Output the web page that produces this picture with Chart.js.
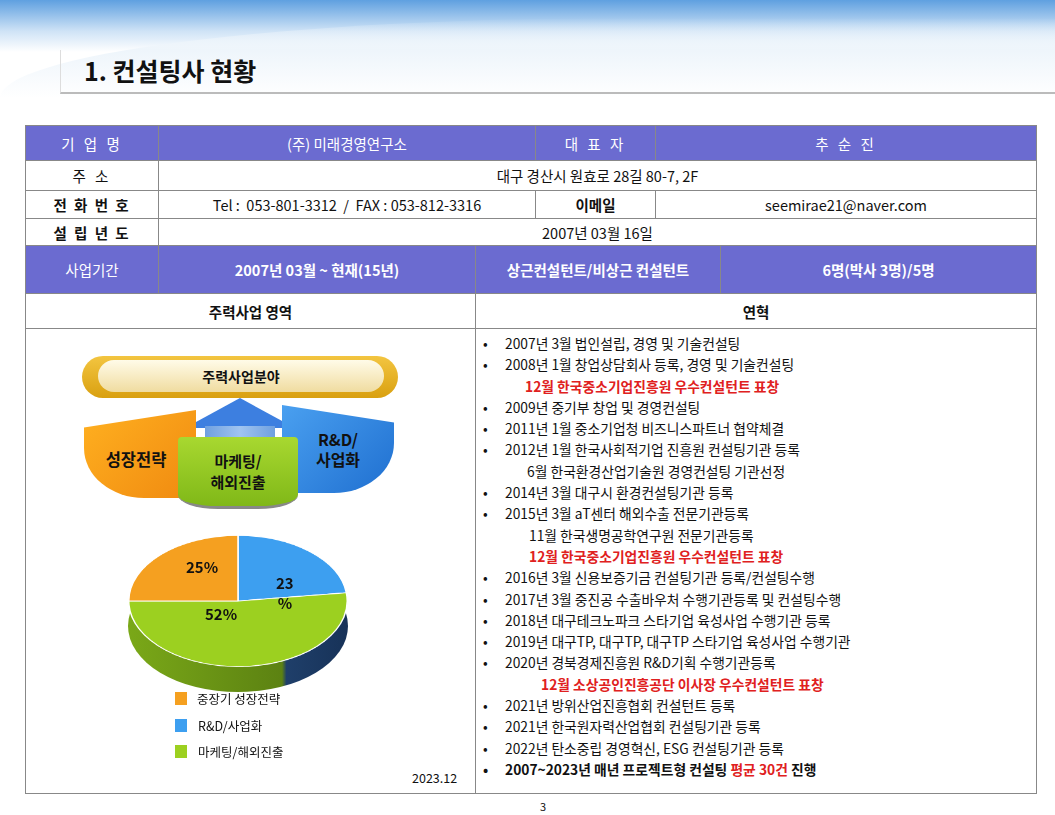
<!DOCTYPE html>
<html><head><meta charset="utf-8">
<script src="https://cdn.jsdelivr.net/npm/chart.js"></script>
<style>
body{margin:0;width:1055px;height:815px;background:#fff;font-family:"Noto Sans CJK KR","Noto Sans",sans-serif;position:relative;overflow:hidden;color:#111}
.a{position:absolute;box-sizing:border-box}
.c{display:flex;align-items:center;justify-content:center;font-size:14.5px}
.p{background:#6b6bd0;color:#fff}
.b{border:1px solid #888}
ul{margin:0;padding:0;list-style:none}
li{height:21.3px;line-height:21.3px;font-size:13.8px;white-space:nowrap}
li.d:before{content:"•";display:inline-block;width:22px;padding-left:6px}
.r{color:#e02020;font-weight:bold}
</style></head><body>
<div class="a" style="left:0;top:0;width:1055px;height:52px;background:linear-gradient(180deg,#5fa0e0,#cfe3f6 60%,#fff)"></div>
<div class="a" style="left:0;top:18px;width:1055px;height:80px;background:linear-gradient(180deg,transparent,#eef5fb 40%,#fff);border-radius:60% 0 0 0/100% 0 0 0"></div>
<div class="a" style="left:60px;top:50px;width:995px;height:44px;border-bottom:2px solid #bbb;border-left:1px solid #ddd"></div>
<div class="a" style="left:84px;top:52px;font-size:25px;font-weight:bold">1. 컨설팅사 현황</div>

<div class="a b p c" style="left:25px;top:125px;width:134px;height:36px;letter-spacing:3px">기 업 명</div>
<div class="a b p c" style="left:158px;top:125px;width:378px;height:36px">(주) 미래경영연구소</div>
<div class="a b p c" style="left:535px;top:125px;width:121px;height:36px;letter-spacing:3px">대 표 자</div>
<div class="a b p c" style="left:655px;top:125px;width:382px;height:36px;letter-spacing:3px">추 순 진</div>
<div class="a b c" style="left:25px;top:160px;width:134px;height:31px;letter-spacing:3px">주 소</div>
<div class="a b c" style="left:158px;top:160px;width:879px;height:31px">대구 경산시 원효로 28길 80-7, 2F</div>
<div class="a b c" style="left:25px;top:190px;width:134px;height:29px;font-weight:bold;letter-spacing:2px">전 화 번 호</div>
<div class="a b c" style="left:158px;top:190px;width:378px;height:29px">Tel :&nbsp; 053-801-3312 &nbsp;/ &nbsp;FAX : 053-812-3316</div>
<div class="a b c" style="left:535px;top:190px;width:121px;height:29px;font-weight:bold">이메일</div>
<div class="a b c" style="left:655px;top:190px;width:382px;height:29px">seemirae21@naver.com</div>
<div class="a b c" style="left:25px;top:218px;width:134px;height:28px;font-weight:bold;letter-spacing:2px">설 립 년 도</div>
<div class="a b c" style="left:158px;top:218px;width:879px;height:28px">2007년 03월 16일</div>
<div class="a b p c" style="left:25px;top:245px;width:134px;height:49px">사업기간</div>
<div class="a b p c" style="left:158px;top:245px;width:318px;height:49px;font-weight:bold">2007년 03월 ~ 현재(15년)</div>
<div class="a b p c" style="left:475px;top:245px;width:246px;height:49px;font-weight:bold">상근컨설턴트/비상근 컨설턴트</div>
<div class="a b p c" style="left:720px;top:245px;width:317px;height:49px;font-weight:bold">6명(박사 3명)/5명</div>
<div class="a b c" style="left:25px;top:293px;width:451px;height:36px;font-weight:bold">주력사업 영역</div>
<div class="a b c" style="left:475px;top:293px;width:562px;height:36px;font-weight:bold">연혁</div>
<div class="a b" style="left:25px;top:328px;width:451px;height:466px"></div>
<div class="a b" style="left:475px;top:328px;width:562px;height:466px"></div>

<div class="a" style="left:477px;top:333px">
<ul>
<li class="d">2007년 3월 법인설립, 경영 및 기술컨설팅</li>
<li class="d">2008년 1월 창업상담회사 등록, 경영 및 기술컨설팅</li>
<li style="padding-left:48px" class="r">12월 한국중소기업진흥원 우수컨설턴트 표창</li>
<li class="d">2009년 중기부 창업 및 경영컨설팅</li>
<li class="d">2011년 1월 중소기업청 비즈니스파트너 협약체결</li>
<li class="d">2012년 1월 한국사회적기업 진흥원 컨설팅기관 등록</li>
<li style="padding-left:50px">6월 한국환경산업기술원 경영컨설팅 기관선정</li>
<li class="d">2014년 3월 대구시 환경컨설팅기관 등록</li>
<li class="d">2015년 3월 aT센터 해외수출 전문기관등록</li>
<li style="padding-left:52px">11월 한국생명공학연구원 전문기관등록</li>
<li style="padding-left:52px" class="r">12월 한국중소기업진흥원 우수컨설턴트 표창</li>
<li class="d">2016년 3월 신용보증기금 컨설팅기관 등록/컨설팅수행</li>
<li class="d">2017년 3월 중진공 수출바우처 수행기관등록 및 컨설팅수행</li>
<li class="d">2018년 대구테크노파크 스타기업 육성사업 수행기관 등록</li>
<li class="d">2019년 대구TP, 대구TP, 대구TP 스타기업 육성사업 수행기관</li>
<li class="d">2020년 경북경제진흥원 R&amp;D기획 수행기관등록</li>
<li style="padding-left:64px" class="r">12월 소상공인진흥공단 이사장 우수컨설턴트 표창</li>
<li class="d">2021년 방위산업진흥협회 컨설턴트 등록</li>
<li class="d">2021년 한국원자력산업협회 컨설팅기관 등록</li>
<li class="d">2022년 탄소중립 경영혁신, ESG 컨설팅기관 등록</li>
<li class="d" style="font-weight:bold">2007~2023년 매년 프로젝트형 컨설팅 <span style="color:#e02020">평균 30건</span> 진행</li>
</ul></div>

<div class="a" style="left:82px;top:356px;width:316px;height:42px;border-radius:21px;background:linear-gradient(180deg,#f3c540,#d9a010)"></div>
<div class="a c" style="left:98px;top:360px;width:286px;height:32px;border-radius:16px;background:linear-gradient(180deg,#fffbe8,#f0dca0);font-weight:bold;font-size:14px">주력사업분야</div>
<div class="a" style="left:185px;top:398px;width:0;height:0;border-left:55px solid transparent;border-right:55px solid transparent;border-bottom:30px solid #3d7fe0"></div>
<div class="a" style="left:205px;top:426px;width:70px;height:20px;background:linear-gradient(90deg,#6fa0e0,#a0c4f0,#6fa0e0)"></div>
<div class="a c" style="left:84px;top:410px;width:112px;height:88px;background:linear-gradient(135deg,#ffb020,#f08a10);border-radius:0 0 10px 60px/0 0 10px 50px;clip-path:polygon(0 20%,100% 0,100% 100%,0 100%);font-weight:bold;font-size:16.5px;padding-right:8px;padding-top:10px">성장전략</div>
<div class="a c" style="left:282px;top:405px;width:112px;height:88px;background:linear-gradient(135deg,#4aa0f0,#1f6fd0);border-radius:0 0 60px 10px/0 0 50px 10px;clip-path:polygon(0 0,100% 20%,100% 100%,0 100%);font-weight:bold;font-size:16px;line-height:1.25;text-align:center">R&amp;D/<br>사업화</div>
<div class="a c" style="left:178px;top:437px;width:120px;height:72px;background:linear-gradient(180deg,#a8d830,#80b818);border-radius:4px 4px 40px 40px/4px 4px 14px 14px;border-bottom:3px solid #888;font-weight:bold;font-size:15px;line-height:1.35;text-align:center">마케팅/<br>해외진출</div>

<div class="a" style="left:128px;top:560px;width:220px;height:132px;border-radius:50%;background:linear-gradient(90deg,#7aa818 0%,#5c8212 70%,#1f3f6a 72%,#173258)"></div>
<div class="a" style="left:128px;top:491px;width:220px;height:220px;transform:scaleY(0.6);transform-origin:50% 50%"><canvas id="pie" width="220" height="220"></canvas></div>
<div class="a" style="left:186px;top:556px;font-weight:bold;font-size:15px">25%</div>
<div class="a" style="left:276px;top:573px;font-weight:bold;font-size:15px;line-height:1.3;text-align:center">23<br>%</div>
<div class="a" style="left:205px;top:603px;font-weight:bold;font-size:15px">52%</div>

<div class="a" style="left:175px;top:692px;width:12px;height:13px;background:#f5a020"></div>
<div class="a" style="left:197px;top:689px;font-size:12.5px">중장기 성장전략</div>
<div class="a" style="left:175px;top:719px;width:12px;height:13px;background:#3d9ff0"></div>
<div class="a" style="left:198px;top:716px;font-size:12.5px">R&amp;D/사업화</div>
<div class="a" style="left:175px;top:745px;width:12px;height:13px;background:#9cd020"></div>
<div class="a" style="left:198px;top:742px;font-size:12.5px">마케팅/해외진출</div>
<div class="a" style="left:412px;top:768px;font-size:12.5px">2023.12</div>
<div class="a" style="left:540px;top:798px;font-size:11px">3</div>

<script>
const categories=["R&D/사업화","마케팅/해외진출","중장기 성장전략"];
const values=[23,52,25];
const colors=["#3d9ff0","#9cd020","#f5a020"];
new Chart(document.getElementById('pie'),{type:'pie',
data:{labels:categories,datasets:[{data:values,backgroundColor:colors,borderColor:'#fff',borderWidth:1.5}]},
options:{responsive:false,animation:false,plugins:{legend:{display:false},tooltip:{enabled:false}},layout:{padding:0}}});
</script>
</body></html>
